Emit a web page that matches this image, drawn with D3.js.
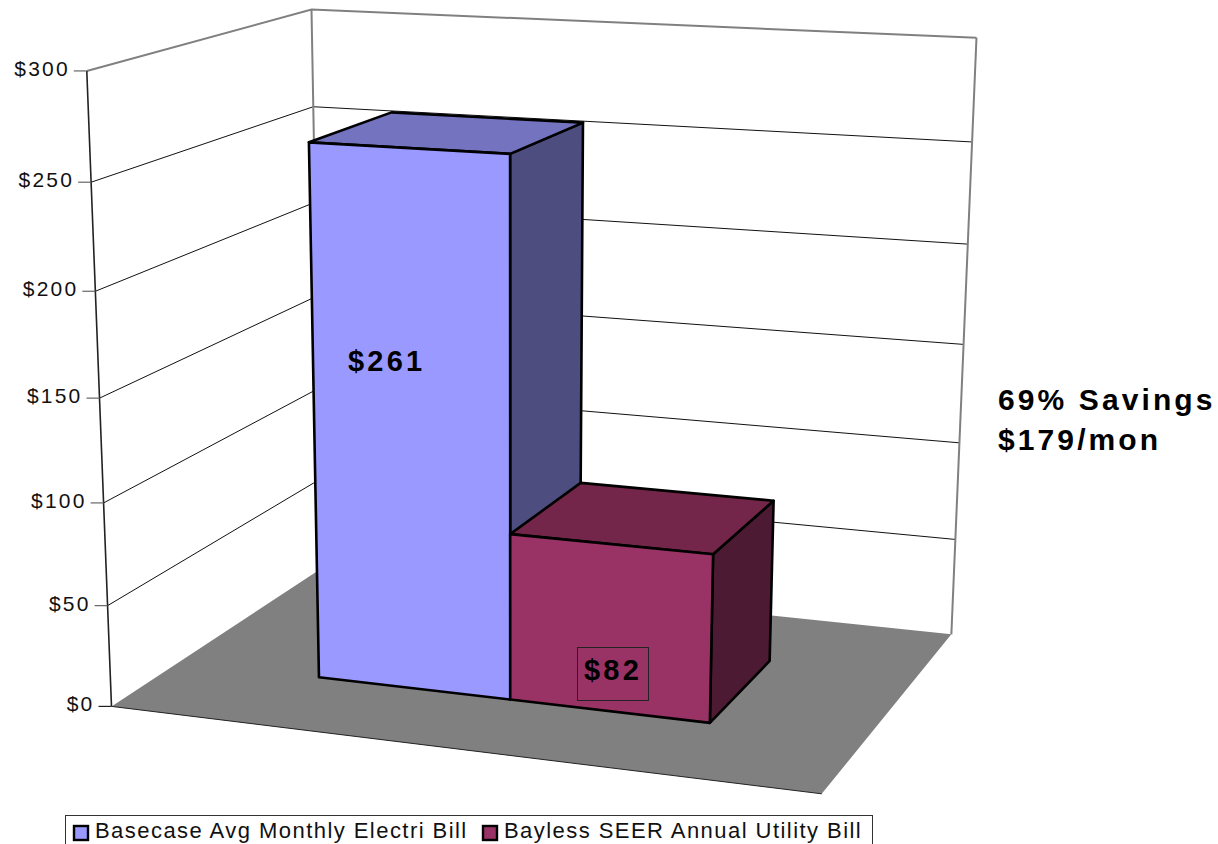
<!DOCTYPE html>
<html><head><meta charset="utf-8"><style>html,body{margin:0;background:#fff;overflow:hidden}svg{display:block}text{font-family:"Liberation Sans",Arial,sans-serif}</style>
<script src="https://cdn.jsdelivr.net/npm/d3@7"></script></head><body><svg id="c" width="1218" height="844"></svg>
<script>
const seriesNames=["Basecase Avg Monthly Electri Bill","Bayless SEER Annual Utility Bill"];
const seriesValues=[261,82];
const valueLabels=["$261","$82"];
const valueTicks=[0,50,100,150,200,250,300];
const noteLines=["69% Savings","$179/mon"];
const frontColors=["#9999ff","#993366"];
const topColors=["#7373bf","#732649"];
const sideColors=["#4d4d80","#4d1a33"];
// calibration of the box's perspective: box coordinates -> reference picture
const world=[[0,0,0],[0,300,0],[0,0,1],[0,300,1],[0,250,1],[1,0,1],[1,300,1],[1,0,0],[1,0,0],[0,50,0],[0,100,0],[0,150,0],[0,200,0],[0,250,0],[1,50,1],[1,100,1],[1,150,1],[1,200,1],[1,250,1],
[0.2145,261,0.3],[0.5005,261,0.3],[0.5005,82,0.3],[0.7865,82,0.3],[0.7865,82,0.703],[0.5005,261,0.703],[0.2145,0,0.3],[0.5005,0,0.3],[0.7865,0,0.3],[0.7865,0,0.703]];
const image=[[113,705],[87,71],[319,572],[313,9],[315,106],[951,632],[974,38],[822,795],[822,795],[108,604],[104,502],[99,398],[94,291],[90,181],[955,538],[960,442],[964,344],[969,244],[974,142],
[308,143],[510,155],[511,536],[712,555],[773,501],[582,124],[320,677],[511,699],[710,723],[769,661]];
function solve(A,b){const n=b.length,M=A.map((r,i)=>[...r,b[i]]);for(let i=0;i<n;i++){let p=i;for(let k=i+1;k<n;k++)if(Math.abs(M[k][i])>Math.abs(M[p][i]))p=k;[M[i],M[p]]=[M[p],M[i]];for(let k=0;k<n;k++)if(k!==i){const f=M[k][i]/M[i][i];for(let j=i;j<=n;j++)M[k][j]-=f*M[i][j];}}return M.map((r,i)=>r[n]/r[i]);}
const vScale=d3.scaleLinear().domain([0,300]).range([0,1]);
const uScale=d3.scaleBand().domain(seriesNames).range([0.2145,0.7865]);
const depth=d3.scaleLinear().domain([0,1]).range([0.3,0.703]);
function fit(){const R=[],B=[];world.forEach((w,i)=>{const a=w[0],b=vScale(w[1]),c=w[2],x=image[i][0],y=image[i][1];R.push([a,b,c,1,0,0,0,0,-x*a,-x*b,-x*c]);B.push(x);R.push([0,0,0,0,a,b,c,1,-y*a,-y*b,-y*c]);B.push(y);});const N=d3.range(11).map(i=>d3.range(11).map(j=>d3.sum(R,r=>r[i]*r[j])));const t=d3.range(11).map(i=>d3.sum(R,(r,k)=>r[i]*B[k]));return solve(N,t);}
const m=fit();
function P(u,val,w){const v=vScale(val),d=m[8]*u+m[9]*v+m[10]*w+1;return [(m[0]*u+m[1]*v+m[2]*w+m[3])/d,(m[4]*u+m[5]*v+m[6]*w+m[7])/d];}
const svg=d3.select("#c"),line=d3.line();
const poly=(pts,fill,stroke,sw)=>svg.append("path").attr("d",line(pts)+"Z").attr("fill",fill).attr("stroke",stroke).attr("stroke-width",sw).attr("stroke-linejoin","round");
const seg=(pts,stroke,sw)=>svg.append("path").attr("d",line(pts)).attr("fill","none").attr("stroke",stroke).attr("stroke-width",sw);
// floor and walls
poly([P(0,0,0),P(1,0,0),P(1,0,1),P(0,0,1)],"#808080","none",0);
valueTicks.filter(t=>t>0).forEach(t=>{const top=t===300;seg([P(0,t,0),P(0,t,1),P(1,t,1)],top?"#808080":"#111",top?2:1);});
seg([P(0,0,1),P(0,300,1)],"#808080",2);
seg([P(1,0,1),P(1,300,1)],"#808080",2);
seg([P(0,0,0),P(0,300,0)],"#222",1.6);
seg([P(0,0,0),P(1,0,0)],"#222",1);
// axis
valueTicks.forEach(t=>{const p=P(0,t,0);seg([[p[0]-13,p[1]],p],t===0?"#222":"#666",1.2);
svg.append("text").attr("x",p[0]-17).attr("y",p[1]+5).attr("text-anchor","end").attr("font-size",21).attr("letter-spacing",2.2).attr("fill","#111").text("$"+t);});
// bars
seriesNames.forEach((s,i)=>{const a=uScale(s),b=a+uScale.bandwidth(),w0=depth(0),w1=depth(1),h=seriesValues[i],K="#000",sw=2.6;
poly([P(b,0,w0),P(b,0,w1),P(b,h,w1),P(b,h,w0)],sideColors[i],K,sw);
poly([P(a,h,w0),P(b,h,w0),P(b,h,w1),P(a,h,w1)],topColors[i],K,sw);
poly([P(a,0,w0),P(b,0,w0),P(b,h,w0),P(a,h,w0)],frontColors[i],K,sw);});
// data labels
const bold=(x,y,size,ls,t)=>svg.append("text").attr("x",x).attr("y",y).attr("font-size",size).attr("font-weight","bold").attr("letter-spacing",ls).attr("fill","#000").text(t);
bold(348,371,29,3.2,valueLabels[0]);
svg.append("rect").attr("x",577.5).attr("y",647.5).attr("width",71).attr("height",53).attr("fill","none").attr("stroke","#222").attr("stroke-width",1);
bold(584,680,29,3.2,valueLabels[1]);
// note
noteLines.forEach((t,i)=>bold(998,410+i*40,30,3.1,t));
// legend
svg.append("rect").attr("x",65.5).attr("y",815.5).attr("width",807).attr("height",40).attr("fill","#fff").attr("stroke","#333").attr("stroke-width",1);
const legendX=d3.scaleOrdinal().domain(seriesNames).range([73,482]);
seriesNames.forEach((s,i)=>{const x=legendX(s);
svg.append("rect").attr("x",x+1).attr("y",826).attr("width",14).attr("height",14).attr("fill",frontColors[i]).attr("stroke","#000").attr("stroke-width",2.4);
svg.append("text").attr("x",x+22).attr("y",838).attr("font-size",22).attr("letter-spacing",1.45).attr("fill","#111").text(s);});
</script></body></html>
